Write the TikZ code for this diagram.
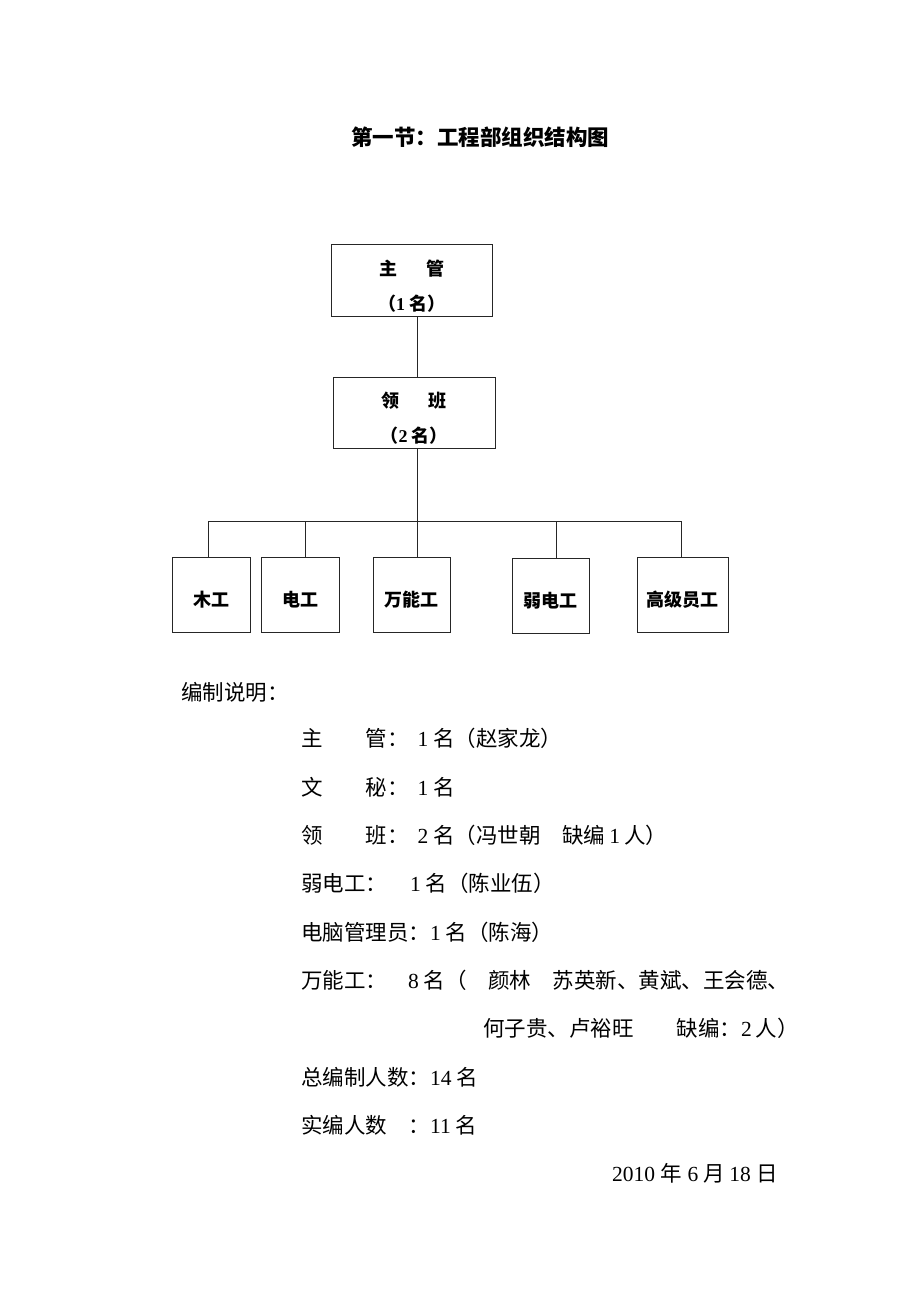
\documentclass[tikz,border=0pt]{standalone}
\usepackage{fontspec}
\setmainfont{Liberation Serif}
\newfontfamily\cj{Noto Sans CJK SC}
\begin{document}
\begin{tikzpicture}[x=1pt, y=-1pt,
        box/.style={draw=black!85, line width=0.9pt, inner sep=0pt, align=center,
                font=\fontsize{18}{35}\selectfont\bfseries\cj},
        lbox/.style={box, minimum width=78pt, minimum height=75pt, text height=27pt, text depth=2.2pt},
        txt/.style={anchor=base west, inner sep=0pt, font=\fontsize{21.5}{26}\selectfont},
        link/.style={draw=black!85, line width=0.9pt}]
                                \useasboundingbox (0, 0) rectangle (920, 1302);

                                \node (title) at (480, 137) [font=\fontsize{21.5}{26}\selectfont\bfseries] {\cj 第一节：工程部组织结构图};

                                \node (zg) at (411.5, 280) [box, minimum width=161pt, minimum height=72pt]
                                        {\rule{0pt}{27pt}主\hspace{29pt}管\\（{\rmfamily 1}\hspace{4pt}名）};
                                \node (lb) at (414, 412.5) [box, minimum width=162pt, minimum height=71pt]
                                        {\rule{0pt}{27pt}领\hspace{29pt}班\\（{\rmfamily 2}\hspace{4pt}名）};

                                \node (mg) at (211, 594.5) [lbox] {木工};
                                \node (dg) at (300, 594.5) [lbox] {电工};
                                \node (wng) at (411.5, 594.5) [lbox, minimum width=77pt] {万能工};
                                \node (rdg) at (550.5, 595.5) [lbox, minimum width=77pt] {弱电工};
                                \node (gjyg) at (682.5, 594.5) [lbox, minimum width=91pt] {高级员工};

                                \coordinate (bus) at (417, 521);
                                \coordinate (t1) at (208.7, 521);
                                \coordinate (t2) at (305.7, 521);
                                \coordinate (t4) at (556, 521);
                                \coordinate (t5) at (681, 521);

                                \draw[link] (zg.south -| bus) -- (lb.north -| bus);
                                \draw[link] (lb.south -| bus) -- (wng.north -| bus);
                                \draw[link] (t1 |- mg.north) -- (t1) -- (t5) -- (t5 |- gjyg.north);
                                \draw[link] (t2) -- (t2 |- dg.north);
                                \draw[link] (t4) -- (t4 |- rdg.north);

                                \node (head) at (181, 700) [txt] {\cj 编制说明：};
                                \node (n1) at (301, 746) [txt] {{\cj 主\quad\quad 管：}\hspace{9pt}1\hspace{5pt}{\cj 名（赵家龙）}};
                                \node (n2) at (301, 795) [txt] {{\cj 文\quad\quad 秘：}\hspace{9pt}1\hspace{5pt}{\cj 名}};
                                \node (n3) at (301, 843) [txt] {{\cj 领\quad\quad 班：}\hspace{9pt}2\hspace{5pt}{\cj 名（冯世朝\quad 缺编}\hspace{4pt}1\hspace{4pt}{\cj 人）}};
                                \node (n4) at (301, 891) [txt] {{\cj 弱电工：}\hspace{23pt}1\hspace{5pt}{\cj 名（陈业伍）}};
                                \node (n5) at (301, 940) [txt] {{\cj 电脑管理员：}1\hspace{5pt}{\cj 名（陈海）}};
                                \node (n6) at (301, 988) [txt] {{\cj 万能工：}\hspace{21pt}8\hspace{5pt}{\cj 名（\quad 颜林\quad 苏英新、黄斌、王会德、}};
                                \node (n7) at (483, 1036) [txt] {{\cj 何子贵、卢裕旺\quad\quad 缺编：}2\hspace{4pt}{\cj 人）}};
                                \node (n8) at (301, 1085) [txt] {{\cj 总编制人数：}14\hspace{5pt}{\cj 名}};
                                \node (n9) at (301, 1133) [txt] {{\cj 实编人数\quad ：}11\hspace{5pt}{\cj 名}};
                                \node (date) at (778, 1181) [txt, anchor=base east] {2010\hspace{5.5pt}{\cj 年}\hspace{5.5pt}6\hspace{5.5pt}{\cj 月}\hspace{4pt}18\hspace{5.5pt}{\cj 日}};
                            \end{tikzpicture}
\end{document}
